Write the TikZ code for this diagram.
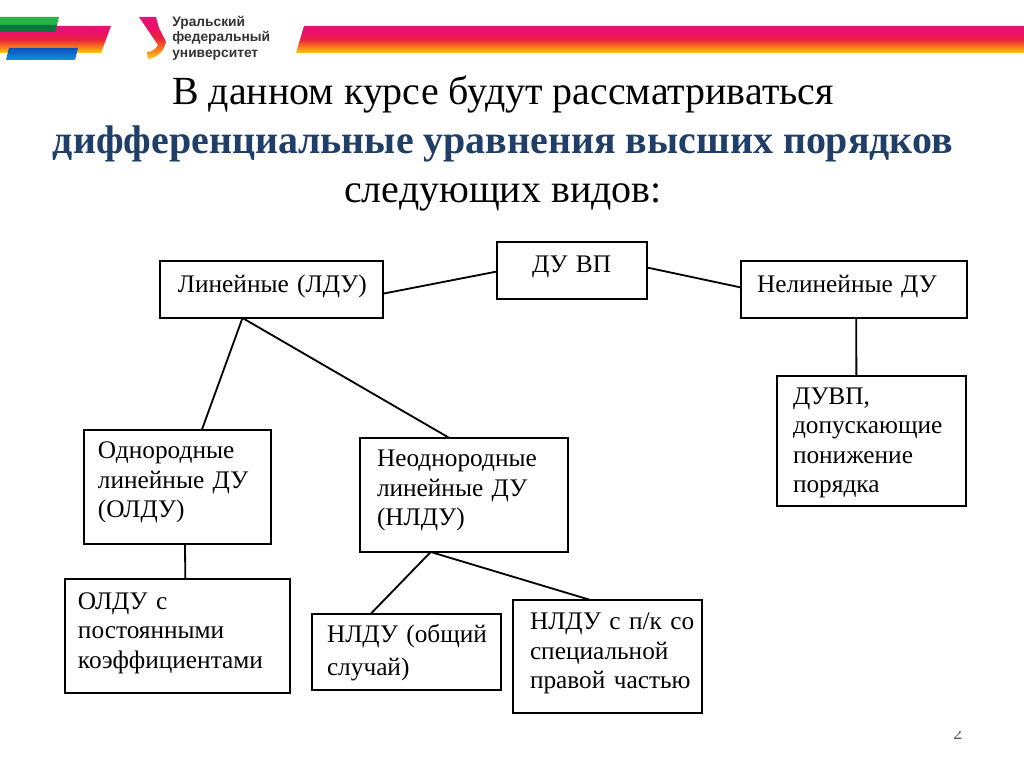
\documentclass[tikz,border=0pt]{standalone}
\usepackage{fontspec}
\setmainfont{Liberation Serif}
\newfontfamily\logofont{Liberation Sans}
\usetikzlibrary{calc, positioning}

\definecolor{titleblue}{RGB}{31,62,104}
\definecolor{greenlight}{RGB}{40,180,75}
\definecolor{greendark}{RGB}{10,120,60}
\definecolor{bluedark}{RGB}{10,80,185}
\definecolor{bluelight}{RGB}{20,145,225}
\definecolor{ribbonyellow}{RGB}{255,205,20}
\definecolor{ribbonorange}{RGB}{250,120,30}
\definecolor{ribbonred}{RGB}{235,35,60}
\definecolor{ribbonpink}{RGB}{235,15,105}
\definecolor{ribbonmagenta}{RGB}{225,20,120}
\pgfdeclareverticalshading{ribbon}{100bp}{
	color(0bp)=(ribbonyellow);
	color(25bp)=(ribbonyellow);
	color(37bp)=(ribbonorange);
	color(50bp)=(ribbonred);
	color(62bp)=(ribbonpink);
	color(75bp)=(ribbonmagenta);
	color(100bp)=(ribbonmagenta)}
\tikzset{
	format/.style n args={3}{draw, line width=1.3pt, anchor=north west, align=left,
		font=\fontsize{18}{21}\selectfont, inner ysep=0pt, outer sep=0pt,
		minimum width=#1*0.711pt, minimum height=#2*0.711pt,
		inner xsep=#3*0.711pt, text width=#1*0.711pt-2*#3*0.711pt}
}

\begin{document}
\begin{tikzpicture}[x=0.025cm, y=-0.025cm]
	\tikzstyle{headline} = [anchor=base, inner sep=0pt, font=\fontsize{28.4}{30}\selectfont]
	\tikzstyle{link} = [line width=1.3pt]

	\useasboundingbox (0,0) rectangle (1024,767);

	% top ribbons
	\shade[shading=ribbon] (0,26) -- (111,26) -- (101,53) -- (0,53) -- cycle;
	\shade[shading=ribbon] (304,26) -- (1024,26) -- (1024,53) -- (296,53) -- cycle;
	\fill[greenlight] (0,17) -- (59,17) -- (57,25) -- (0,25) -- cycle;
	\fill[greendark] (0,25) -- (57,25) -- (55,32) -- (0,32) -- cycle;
	\shade[top color=bluedark, bottom color=bluelight] (9,48) -- (78,48) -- (75,60) -- (6,60) -- cycle;

	% logo
	\shade[shading=ribbon] (139,17) -- (156,17) -- (159,28) -- (166,42) .. controls (164,52) and (156,58) .. (148,59) -- (147,52) .. controls (152,52) and (156,49) .. (158,45) -- cycle;
	\node[anchor=north west, inner sep=0pt, align=left, text=black!80, font=\logofont\bfseries\fontsize{9.8}{10.9}\selectfont] (logo) at (172,16) {Уральский\\федеральный\\университет};

	% title
	\node[headline] (title1) at (503,105) {В данном курсе будут рассматриваться};
	\node[headline, text=titleblue, font=\bfseries\fontsize{28.4}{30}\selectfont] (title2) at (503,154) {дифференциальные уравнения высших порядков};
	\node[headline] (title3) at (503,203) {следующих видов:};

	% boxes
	\path
		node[format={150}{57}{35}, text depth=8.5pt] (duvp) at (497,242) {ДУ~ВП}
		node[format={223}{57}{18}, text depth=8.5pt] (lin) at (160,261) {Линейные~(ЛДУ)}
		node[format={226}{57}{16}, text depth=8.5pt] (nelin) at (741,261) {Нелинейные~ДУ}
		node[format={189}{130}{16}, text depth=64pt] (ponizh) at (777,376) {ДУВП,\\допускающие\\понижение\\порядка}
		node[format={187}{114}{14}, text depth=52pt] (odn) at (84,430) {Однородные\\линейные~ДУ\\(ОЛДУ)}
		node[format={208}{114}{17}, text depth=52pt] (neodn) at (360,438) {Неоднородные\\линейные~ДУ\\(НЛДУ)}
		node[format={225}{114}{13}, text depth=50pt] (post) at (65,579) {ОЛДУ~с\\постоянными\\коэффициентами}
		node[format={189}{76}{15}, text depth=26pt] (obsh) at (312,614) {НЛДУ~(общий\\[2pt]случай)}
		node[format={189}{113}{17}, text depth=50pt] (spec) at (513,600) {НЛДУ~с~п/к~со\\специальной\\правой~частью}
	;

	% free ends on the borders
	\coordinate (linout) at ($(lin.south west)!0.37!(lin.south east)$);
	\coordinate (neodnout) at ($(neodn.south west)!0.34!(neodn.south east)$);

	\draw[link] ($(lin.east)+(1,4)$) -- ($(duvp.west)+(0,1)$);
	\draw[link] ($(duvp.east)+(0,-3)$) -- ($(nelin.west)+(0,-2)$);
	\draw[link] ($(nelin.south west)!0.51!(nelin.south east)$) -- ($(ponizh.north west)!0.42!(ponizh.north east)$);
	\draw[link] (linout) -- ($(odn.north west)!0.63!(odn.north east)$);
	\draw[link] (linout) -- ($(neodn.north west)!0.43!(neodn.north east)$);
	\draw[link] ($(odn.south west)!0.54!(odn.south east)$) -- ($(post.north west)!0.535!(post.north east)$);
	\draw[link] (neodnout) -- ($(obsh.north west)!0.31!(obsh.north east)$);
	\draw[link] (neodnout) -- ($(spec.north west)!0.41!(spec.north east)$);

	% page number, cut off at its top
	\begin{scope}
		\clip (940,731) rectangle (975,745);
		\node[anchor=base, inner sep=0pt, text=black!65, font=\fontsize{13}{15}\selectfont] (pagenum) at (958,739) {2};
	\end{scope}
\end{tikzpicture}
\end{document}
